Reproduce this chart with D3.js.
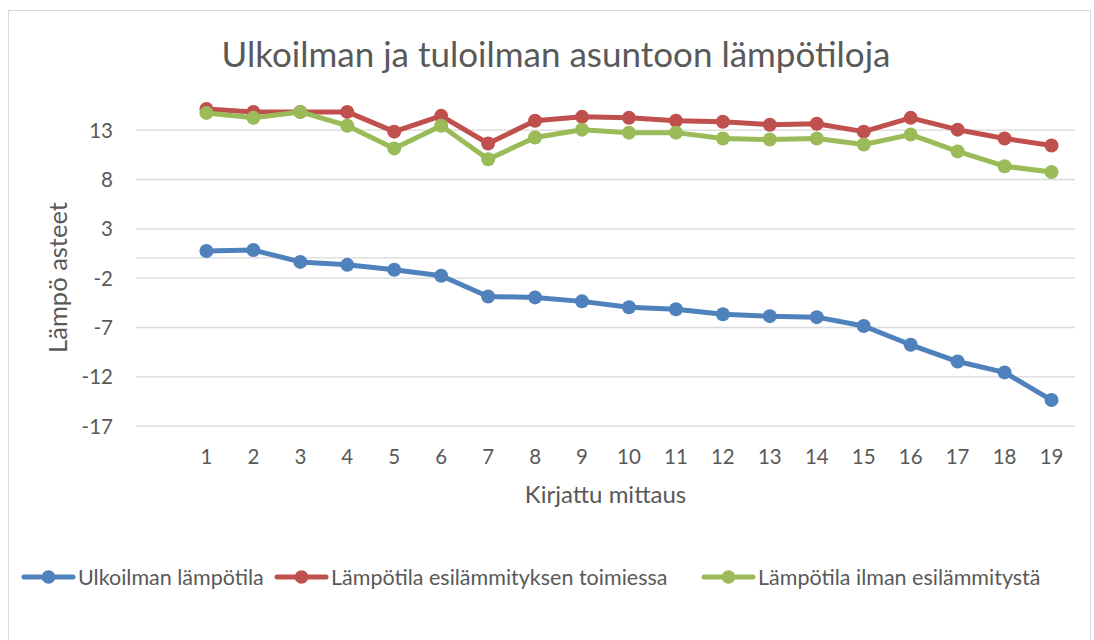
<!DOCTYPE html>
<html>
<head>
<meta charset="utf-8">
<script src="https://cdn.jsdelivr.net/npm/d3@7"></script>
<style>
  html, body { margin: 0; padding: 0; background: #fff; }
  svg { display: block; }
  text { font-family: Lato, "Open Sans", sans-serif; fill: #595959; }
</style>
</head>
<body>
<svg id="chart" width="1094" height="640"></svg>
<script>
// ---- data ----
const categories = ["", "1", "2", "3", "4", "5", "6", "7", "8", "9", "10", "11", "12", "13", "14", "15", "16", "17", "18", "19"];
const seriesNames = ["Ulkoilman lämpötila", "Lämpötila esilämmityksen toimiessa", "Lämpötila ilman esilämmitystä"];
const ulkoilma = [null, 0.7, 0.8, -0.4, -0.7, -1.2, -1.8, -3.9, -4.0, -4.4, -5.0, -5.2, -5.7, -5.9, -6.0, -6.9, -8.8, -10.5, -11.6, -14.4];
const esilammitys = [null, 15.1, 14.8, 14.8, 14.8, 12.8, 14.4, 11.6, 13.9, 14.3, 14.2, 13.9, 13.8, 13.5, 13.6, 12.8, 14.2, 13.0, 12.1, 11.4];
const ilmanEsilammitysta = [null, 14.7, 14.2, 14.8, 13.4, 11.1, 13.4, 10.0, 12.2, 13.0, 12.7, 12.7, 12.1, 12.0, 12.1, 11.5, 12.5, 10.8, 9.3, 8.7];
const yTicks = [-17, -12, -7, -2, 3, 8, 13];
const colors = ["#4F81BD", "#C0504D", "#9BBB59"];
const titleText = "Ulkoilman ja tuloilman asuntoon lämpötiloja";
const yTitle = "Lämpö asteet";
const xTitle = "Kirjattu mittaus";

// ---- layout ----
const svg = d3.select("#chart");
const W = 1094, H = 640;
const plot = { left: 136, right: 1075, top: 90.2, bottom: 425.7 };

// chart border
svg.append("rect").attr("x", 8.5).attr("y", 10.5).attr("width", W - 12).attr("height", H)
  .attr("fill", "#fff").attr("stroke", "#D9D9D9").attr("stroke-width", 1);

const x = d3.scaleBand().domain(categories).range([plot.left, plot.right]).padding(0);
const y = d3.scaleLinear().domain([-17, 17]).range([plot.bottom, plot.top]);
const cx = c => x(c) + x.bandwidth() / 2;

// gridlines via axis
const yAxis = d3.axisLeft(y).tickValues(yTicks).tickSize(-(plot.right - plot.left)).tickPadding(23).tickFormat(d => String(d));
const gy = svg.append("g").attr("transform", `translate(${plot.left},0)`).call(yAxis);
gy.select(".domain").remove();
gy.selectAll(".tick line").attr("stroke", "#D9D9D9").attr("stroke-width", 1.3);
gy.selectAll(".tick text").attr("font-size", 20.5).attr("dy", "0.36em")
  .style("font-family", "Lato, sans-serif").attr("fill", "#595959");

// horizontal category axis line at 0
svg.append("line").attr("x1", plot.left).attr("x2", plot.right)
  .attr("y1", y(0)).attr("y2", y(0)).attr("stroke", "#D9D9D9").attr("stroke-width", 1.3);

// x labels (low position)
const xAxis = d3.axisBottom(x).tickSize(0).tickPadding(0);
const gx = svg.append("g").attr("transform", `translate(0,${plot.bottom})`).call(xAxis);
gx.select(".domain").remove();
gx.selectAll(".tick text").attr("font-size", 20.5).attr("y", 38.5).attr("dy", null)
  .style("font-family", "Lato, sans-serif").attr("fill", "#595959");

// titles
svg.append("text").attr("x", 556).attr("y", 67).attr("text-anchor", "middle")
  .attr("font-size", 35).text(titleText);
svg.append("text").attr("x", (plot.left + plot.right) / 2).attr("y", 503).attr("text-anchor", "middle")
  .attr("font-size", 24).text(xTitle);
svg.append("text").attr("transform", `translate(67,277.5) rotate(-90)`)
  .attr("text-anchor", "middle").attr("font-size", 25.5).text(yTitle);

// series
const allSeries = [ulkoilma, esilammitys, ilmanEsilammitysta];
const line = d3.line().defined(d => d.v != null).x(d => cx(d.c)).y(d => y(d.v));
allSeries.forEach((vals, i) => {
  const pts = categories.map((c, j) => ({ c, v: vals[j] }));
  svg.append("path").datum(pts).attr("d", line).attr("fill", "none")
    .attr("stroke", colors[i]).attr("stroke-width", 5).attr("stroke-linejoin", "round").attr("stroke-linecap", "round");
  svg.append("g").selectAll("circle").data(pts.filter(d => d.v != null)).join("circle")
    .attr("cx", d => cx(d.c)).attr("cy", d => y(d.v)).attr("r", 7).attr("fill", colors[i]);
});

// legend (item start positions follow the reference layout)
const legY = 577;
const legStarts = [22, 275, 702];
const leg = svg.append("g");
seriesNames.forEach((name, i) => {
  const lx = legStarts[i];
  const g = leg.append("g");
  g.append("line").attr("x1", lx + 2).attr("x2", lx + 51).attr("y1", legY).attr("y2", legY)
    .attr("stroke", colors[i]).attr("stroke-width", 5).attr("stroke-linecap", "round");
  g.append("circle").attr("cx", lx + 26.5).attr("cy", legY).attr("r", 6.8).attr("fill", colors[i]);
  g.append("text").attr("x", lx + 56).attr("y", legY + 7.5).attr("font-size", 21.5).text(name);
});
</script>
</body>
</html>
